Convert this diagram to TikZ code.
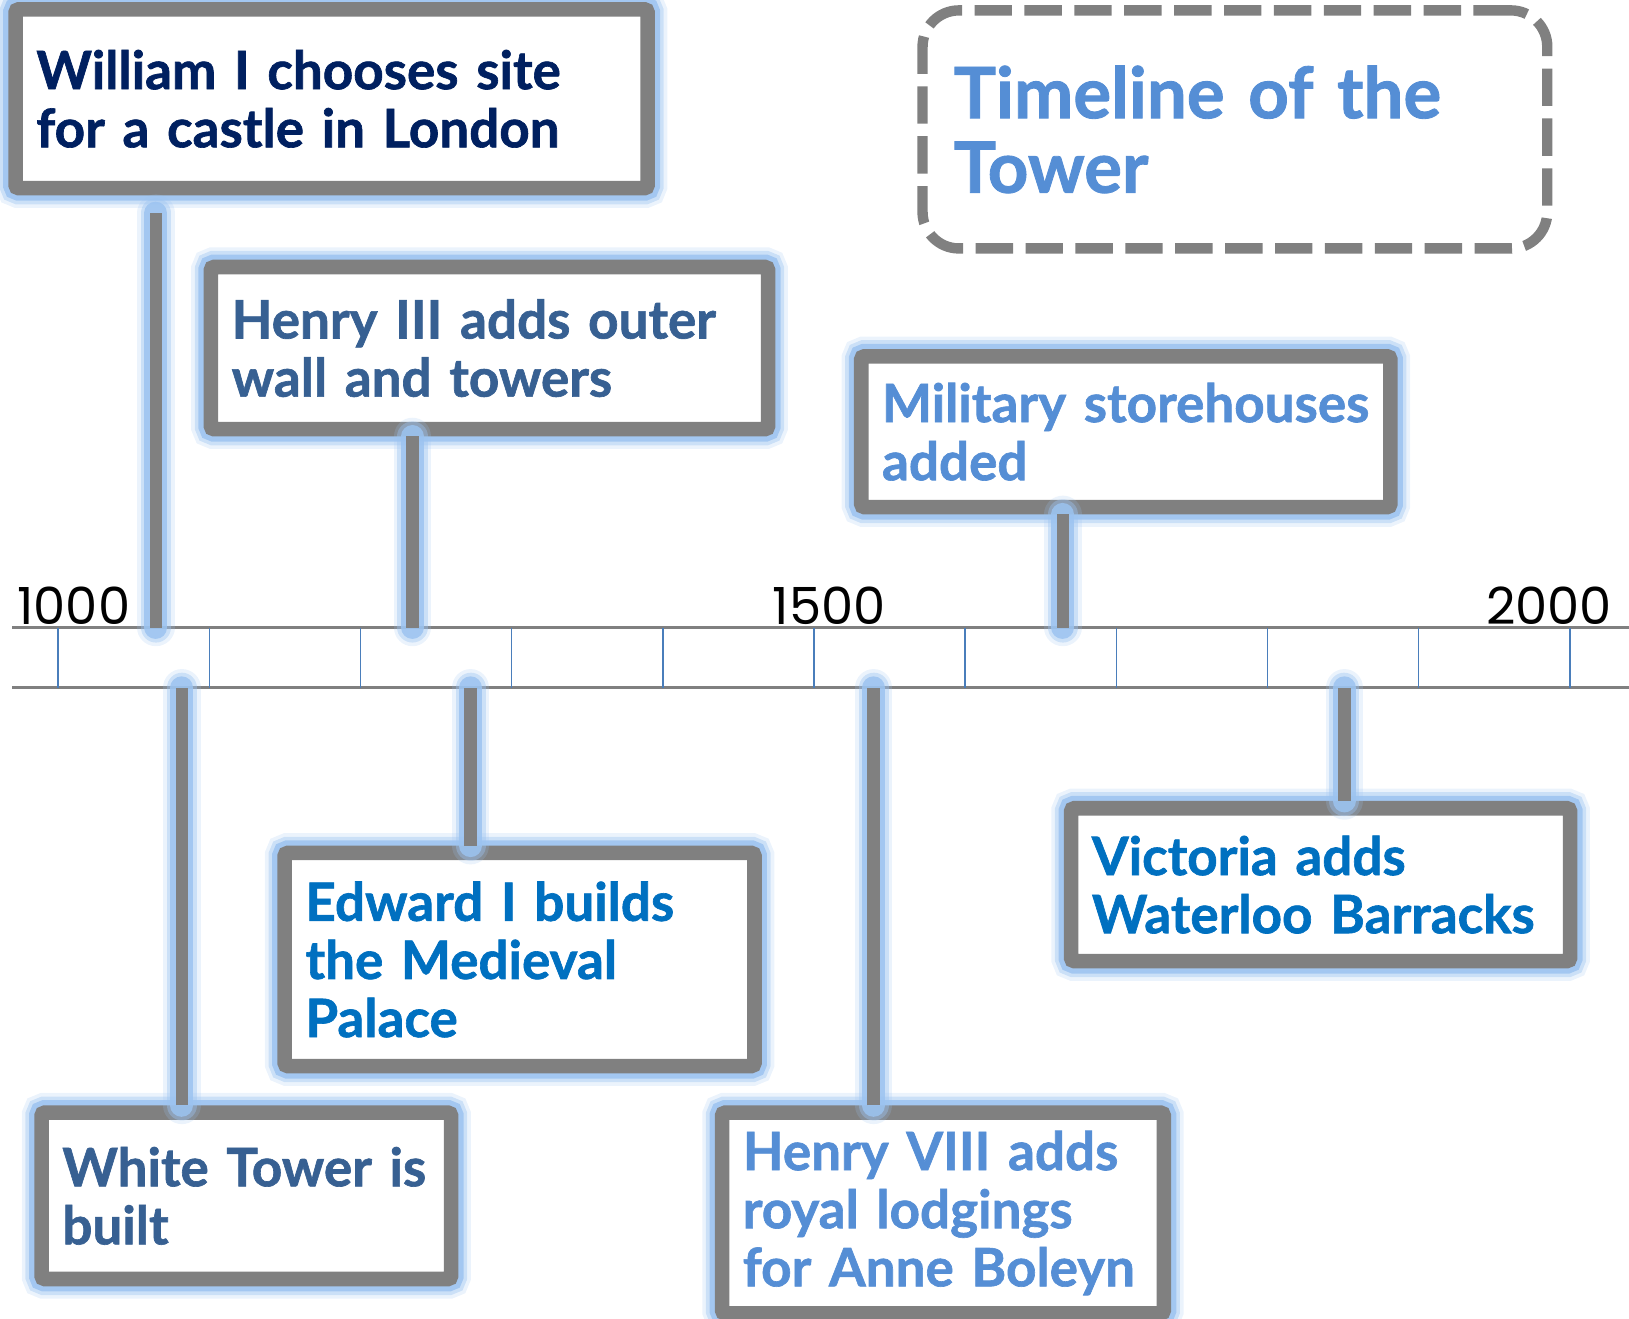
\documentclass[tikz,border=0pt]{standalone}
\usepackage{fontspec}
\setmainfont{Lato}[BoldFeatures={FakeBold=1.2}]
\newfontfamily\yearFont{Poppins}

\definecolor{lineGray}{HTML}{808080}
\definecolor{tickBlue}{HTML}{4A7EBB}
\definecolor{glowBlue}{HTML}{9CC3F0}
\definecolor{navyText}{HTML}{002060}
\definecolor{steelText}{HTML}{376092}
\definecolor{skyText}{HTML}{558ED5}
\definecolor{oceanText}{HTML}{0070C0}

\begin{document}
\begin{tikzpicture}
[x=0.01cm, y=-0.01cm,
  axisDecorate/.style={draw=lineGray, line width=0.025cm},
  tickDecorate/.style={draw=tickBlue, line width=0.015cm},
  glowDecorate/.style={%
    preaction={draw=glowBlue, line width=#1+0.24cm, opacity=0.2, line cap=round},
    preaction={draw=glowBlue, line width=#1+0.17cm, opacity=0.4, line cap=round},
    preaction={draw=glowBlue, line width=#1+0.1cm, opacity=0.85, line cap=round}},
  lineDecorate/.style={-, draw=lineGray, line width=0.12cm, glowDecorate=0.12cm},
  nodeDecorate/.style={draw=lineGray, line width=0.14cm, fill=white,
    rounded corners=0.03cm, outer sep=0pt, anchor=north west, align=left,
    inner xsep=0.2cm, inner ysep=0pt,
    font=\bfseries\fontsize{14.5}{15.9}\selectfont, glowDecorate=0.14cm},
  titleDecorate/.style={draw=lineGray, line width=0.1cm, dash pattern=on 0.36cm off 0.12cm,
    rounded corners=0.35cm, outer sep=0pt, anchor=north west, align=left,
    inner xsep=0.3cm, inner ysep=0pt, text=skyText,
    font=\bfseries\fontsize{19.4}{20.4}\selectfont},
  yearDecorate/.style={anchor=base, font=\yearFont\fontsize{14}{16}\selectfont}]
\useasboundingbox (0,0) rectangle (1568,1269);
%% axis
\coordinate (axisTopStart) at (12,604);
\coordinate (axisTopEnd) at (1568,604);
\coordinate (axisLowStart) at (12,662);
\coordinate (axisLowEnd) at (1568,662);
\draw[axisDecorate] (axisTopStart) -- (axisTopEnd);
\draw[axisDecorate] (axisLowStart) -- (axisLowEnd);
\foreach \i in {0,...,10}
{
  \draw[tickDecorate] ({56+145.5*\i},604) -- ({56+145.5*\i},662);
}
\foreach \yr/\x in {1000/71, 1500/798, 2000/1491}
{
  \node (year\yr) at (\x,601) [yearDecorate] {\yr};
}
%% anchor points on the axis
\foreach \pointname/\x/\y in {
  onWilliam/150/604, onHenryIII/397/604, onMilitary/1023/604,
  onWhiteTower/175/662, onEdward/453/662, onHenryVIII/841/662,
  onVictoria/1294/662}
{
  \coordinate (\pointname) at (\x,\y);
}
%% boxes
\foreach \nodename/\x/\y/\w/\h/\tw/\col/\txt in {
  william/15/9/6.08/1.72/5.68/navyText/{William I chooses site\\for a castle in London},
  henryIII/203/257/5.36/1.56/4.96/steelText/{Henry III adds outer\\wall and towers},
  military/829/343/5.09/1.45/4.69/skyText/{Military storehouses\\added},
  edward/274/821/4.52/2.05/4.12/oceanText/{Edward I builds\\the Medieval\\Palace},
  whiteTower/40/1071/3.94/1.60/3.54/steelText/{White Tower is\\built},
  henryVIII/695/1071/4.25/1.93/3.85/skyText/{Henry VIII adds\\royal lodgings\\for Anne Boleyn},
  victoria/1031/778/4.80/1.47/4.40/oceanText/{Victoria adds\\Waterloo Barracks}}
{
  \node (\nodename) at (\x,\y) [nodeDecorate, minimum width=\w cm,
    minimum height=\h cm, text width=\tw cm, text=\col] {\txt};
}
\node (title) at (888,10) [titleDecorate, minimum width=6.01cm,
  minimum height=2.29cm, text width=5.41cm] {Timeline of the\\Tower};
%% connectors
\path
\foreach \boxname/\pointname/\side/\gap in {
  william/onWilliam/south/0.24, henryIII/onHenryIII/south/0.07,
  military/onMilitary/south/0.07, edward/onEdward/north/0.07,
  whiteTower/onWhiteTower/north/0.07, henryVIII/onHenryVIII/north/0.07,
  victoria/onVictoria/north/0.07}
{
  (\boxname.\side -| \pointname) edge[lineDecorate, shorten <=\gap cm] (\pointname)
};
\end{tikzpicture}
\end{document}
